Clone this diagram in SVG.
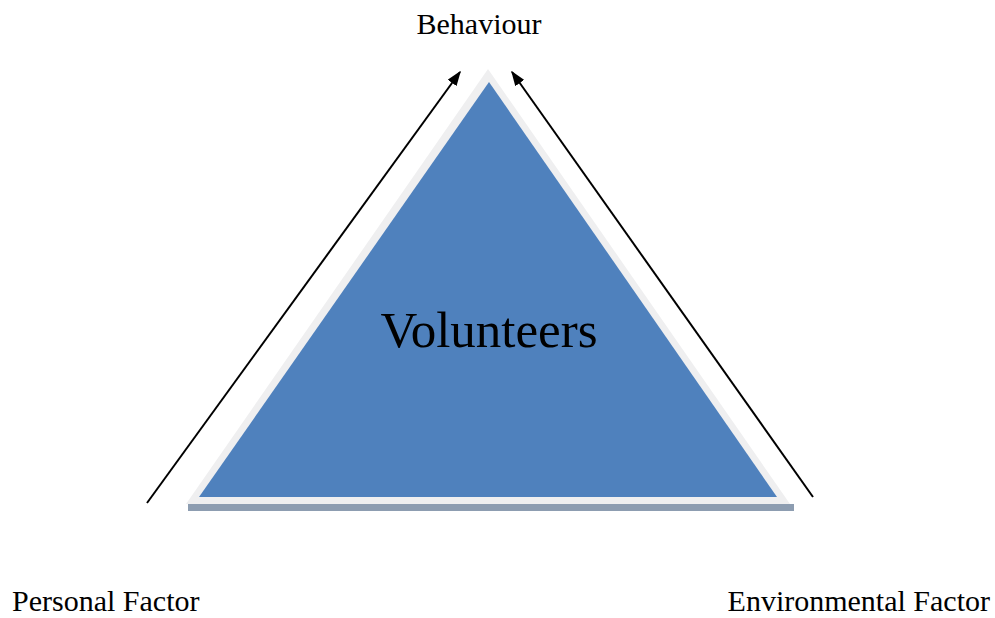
<svg xmlns="http://www.w3.org/2000/svg" width="995" height="618" viewBox="0 0 995 618">
  <style>
    .lbl { font-family: "Liberation Serif", "Times New Roman", serif; fill: #000; }
    .arrow { stroke: #000; stroke-width: 2; fill: none; marker-end: url(#head); }
  </style>
  <defs>
    <marker id="head" viewBox="0 0 10 10" refX="9" refY="5" markerWidth="15" markerHeight="11" markerUnits="userSpaceOnUse" orient="auto" preserveAspectRatio="none">
      <path d="M0,0 L10,5 L0,10 Z" fill="#000"/>
    </marker>
  </defs>
  <rect width="995" height="618" fill="#fff"/>

  <g id="volunteers">
    <!-- shadow strip under the base -->
    <polygon points="188,504 794,504 794,511 188,511" fill="#8d9db1"/>
    <!-- light frame -->
    <polygon points="488,69 790,504 186,504" fill="#efeff0"/>
    <!-- blue body -->
    <polygon points="489,82 777,497 199,497" fill="#4f81bd"/>
    <text class="lbl" x="489" y="347" font-size="51" text-anchor="middle">Volunteers</text>
  </g>

  <g id="behaviour">
    <text class="lbl" x="479" y="34" font-size="30" text-anchor="middle">Behaviour</text>
  </g>
  <g id="personal-factor">
    <text class="lbl" x="12" y="611" font-size="30">Personal Factor</text>
  </g>
  <g id="environmental-factor">
    <text class="lbl" x="990" y="611" font-size="30" text-anchor="end">Environmental Factor</text>
  </g>

  <g id="connectors">
    <line class="arrow" x1="147" y1="503" x2="460" y2="72"/>
    <line class="arrow" x1="813" y1="497" x2="512" y2="72"/>
  </g>
</svg>
